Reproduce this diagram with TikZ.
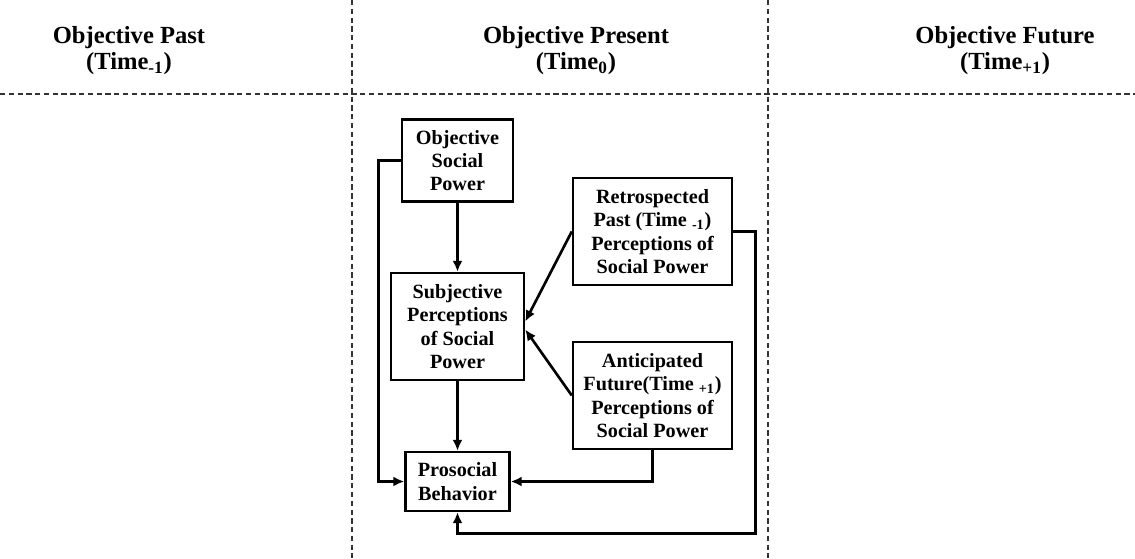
\documentclass[tikz,border=0pt]{standalone}
\usepackage{fontspec}
\setmainfont{Liberation Serif}
\usepackage{tikz}
\usetikzlibrary{arrows.meta}

\begin{document}
\begin{tikzpicture}[x=0.02cm,y=-0.02cm,
  every node/.style={font=\bfseries\fontsize{11.5}{13.3}\selectfont,align=center},
  head/.style={font=\bfseries\fontsize{14}{14.8}\selectfont},
  box/.style={draw,line width=1.4pt,inner sep=2pt},
  arr/.style={line width=1.5pt,-{Latex[length=2.2mm,width=2mm]}},
  sep/.style={line width=0.6pt,dash pattern=on 3pt off 2pt,black!80}]
\useasboundingbox (0,0) rectangle (1135,558);
\draw[sep] (352,0)--(352,558);
\draw[sep] (768,0)--(768,558);
\draw[sep] (0,94)--(1135,94);
\node[head] (past) at (129,51) {Objective Past\\(Time\textsubscript{-1})};
\node[head] (present) at (576,51) {Objective Present\\(Time\textsubscript{0})};
\node[head] (future) at (1005,51) {Objective Future\\(Time\textsubscript{+1})};
\node[box,minimum width=2.22cm,minimum height=1.64cm] (osp) at (457.5,160.5) {Objective\\Social\\Power};
\node[box,minimum width=2.66cm,minimum height=2.14cm] (sp) at (457.5,326.5) {Subjective\\Perceptions\\of Social\\Power};
\node[box,minimum width=3.18cm,minimum height=2.14cm] (retro) at (652.5,231.5) {Retrospected\\Past (Time \textsubscript{-1})\\Perceptions of\\Social Power};
\node[box,minimum width=3.18cm,minimum height=2.14cm] (antic) at (652.5,395.5) {Anticipated\\Future(Time \textsubscript{+1})\\Perceptions of\\Social Power};
\node[box,minimum width=2.08cm,minimum height=1.18cm] (pro) at (457.5,481.5) {Prosocial\\Behavior};
\draw[arr] (osp) -- (sp);
\draw[arr] (sp) -- (pro);
\draw[arr] (retro.west) -- ([yshift=0.1cm]sp.east);
\draw[arr] (antic.west) -- ([yshift=-0.06cm]sp.east);
\draw[arr] (osp.west) -- ++(-22,0) |- (pro.west);
\draw[arr] (antic.south) |- (pro.east);
\draw[arr] (retro.east) -- ++(22,0) |- ([yshift=-0.42cm]pro.south) -- (pro.south);
\end{tikzpicture}
\end{document}
